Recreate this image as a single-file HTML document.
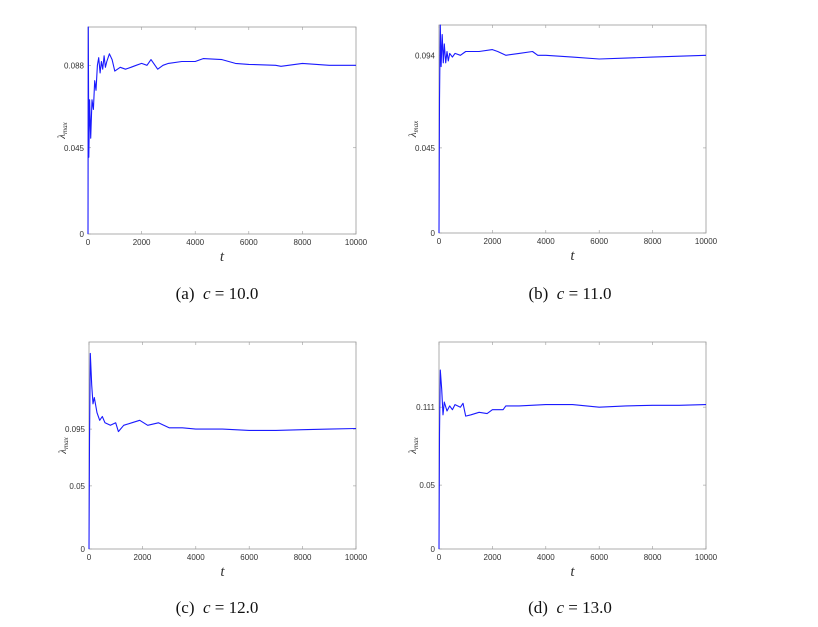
<!DOCTYPE html>
<html><head><meta charset="utf-8"><style>
body{margin:0;background:#fff;width:818px;height:627px;overflow:hidden}
svg{display:block}
.tk{font:8px "Liberation Sans",sans-serif;fill:#333}
.cap{font:17px "Liberation Serif",serif;fill:#111}
</style></head><body>
<svg id="s" width="818" height="627"></svg>
<script>
const tA=[0,10,30,60,100,150,200,250,300,350,400,450,500,550,600,650,700,800,900,1000,1200,1400,1600,1800,2000,2200,2350,2600,2800,3000,3500,4000,4300,5000,5500,6000,7000,7200,8000,9000,10000];
const vA=[0,0.108,0.04,0.07,0.05,0.07,0.065,0.08,0.075,0.088,0.092,0.084,0.09,0.086,0.093,0.087,0.09,0.094,0.091,0.085,0.087,0.086,0.087,0.088,0.089,0.088,0.091,0.086,0.088,0.089,0.09,0.09,0.0915,0.091,0.089,0.0885,0.088,0.0875,0.089,0.088,0.088];
const tB=[0,20,50,80,120,160,200,250,300,350,400,500,600,800,1000,1500,2000,2200,2500,3000,3500,3700,4000,5000,6000,7000,8000,9000,10000];
const vB=[0,0.07,0.11,0.088,0.105,0.09,0.1,0.09,0.096,0.091,0.095,0.093,0.095,0.094,0.096,0.096,0.097,0.096,0.094,0.095,0.096,0.094,0.094,0.093,0.092,0.0925,0.093,0.0935,0.094];
const tC=[0,20,50,100,150,200,300,400,500,600,800,1000,1100,1300,1600,1900,2200,2600,3000,3500,4000,5000,6000,7000,8000,9000,10000];
const vC=[0,0.085,0.155,0.13,0.115,0.12,0.108,0.102,0.105,0.1,0.098,0.1,0.093,0.098,0.1,0.102,0.098,0.1,0.096,0.096,0.095,0.095,0.094,0.094,0.0945,0.095,0.0955];
const tD=[0,20,50,100,150,200,300,400,500,600,800,900,1000,1200,1500,1800,2000,2400,2500,3000,4000,5000,6000,7000,8000,9000,10000];
const vD=[0,0.09,0.14,0.125,0.105,0.115,0.108,0.112,0.109,0.113,0.111,0.114,0.104,0.105,0.107,0.106,0.109,0.109,0.112,0.112,0.113,0.113,0.111,0.112,0.1125,0.1125,0.113];
const xTicks=[0,2000,4000,6000,8000,10000];
const yTicksA=[0,0.045,0.088], yTicksB=[0,0.045,0.094], yTicksC=[0,0.05,0.095], yTicksD=[0,0.05,0.111];
const ns="http://www.w3.org/2000/svg",S=document.getElementById('s');
function mk(tag,at,p){const e=document.createElementNS(ns,tag);for(const k in at)e.setAttribute(k,at[k]);(p||S).appendChild(e);return e;}
const panels=[
 {id:'a',x0:88,x1:356,y0:27,y1:234,ymax:0.108,t:tA,v:vA,yt:yTicksA,cap:'(a)',c:'10.0',cx:217,cy:299},
 {id:'b',x0:439,x1:706,y0:25,y1:233,ymax:0.110,t:tB,v:vB,yt:yTicksB,cap:'(b)',c:'11.0',cx:570,cy:299},
 {id:'c',x0:89,x1:356,y0:342,y1:549,ymax:0.164,t:tC,v:vC,yt:yTicksC,cap:'(c)',c:'12.0',cx:217,cy:613},
 {id:'d',x0:439,x1:706,y0:342,y1:549,ymax:0.162,t:tD,v:vD,yt:yTicksD,cap:'(d)',c:'13.0',cx:570,cy:613}];
panels.forEach(P=>{
 const g=mk('g',{});
 
 
 const X=t=>P.x0+(t/10000)*(P.x1-P.x0), Y=v=>P.y1-(v/P.ymax)*(P.y1-P.y0);
 const r=mk('rect',{x:P.x0,y:P.y0,width:P.x1-P.x0,height:P.y1-P.y0,fill:'none',stroke:'#999','stroke-width':0.8},g);
 
 
 xTicks.forEach(t=>{
  mk('line',{x1:X(t),x2:X(t),y1:P.y1,y2:P.y1-3,stroke:'#999','stroke-width':0.6},g);
  mk('line',{x1:X(t),x2:X(t),y1:P.y0,y2:P.y0+3,stroke:'#999','stroke-width':0.6},g);
  const tx=mk('text',{x:X(t),y:P.y1+11,'text-anchor':'middle',class:'tk'},g);tx.textContent=t;
  
  
 });
 P.yt.forEach(v=>{
  mk('line',{x1:P.x0,x2:P.x0+3,y1:Y(v),y2:Y(v),stroke:'#999','stroke-width':0.6},g);
  mk('line',{x1:P.x1,x2:P.x1-3,y1:Y(v),y2:Y(v),stroke:'#999','stroke-width':0.6},g);
  const tx=mk('text',{x:P.x0-4,y:Y(v)+3,'text-anchor':'end',class:'tk'},g);tx.textContent=v;
  
  
 });
 const xl=mk('text',{x:(P.x0+P.x1)/2,y:P.y1+27,'text-anchor':'middle',style:'font:italic 15px "Liberation Serif",serif;fill:#333'},g);xl.textContent='t';
 
 
 const yl=mk('text',{transform:`translate(${P.x0-23},${(P.y0+P.y1)/2}) rotate(-90)`,'text-anchor':'middle',style:'font:italic 11px "Liberation Serif",serif;fill:#333'},g);
 yl.innerHTML='λ<tspan font-size="7" dy="2">max</tspan>';
 
 
 const pts=P.t.map((t,i)=>X(t).toFixed(1)+','+Y(P.v[i]).toFixed(1)).join(' ');
 const pl=mk('polyline',{points:pts,fill:'none',stroke:'#1a1aff','stroke-width':1.1,'stroke-linejoin':'round'},g);
 
 
 const cp=mk('text',{x:P.cx,y:P.cy,'text-anchor':'middle',class:'cap'},g);
 cp.innerHTML=P.cap+'&#160; <tspan font-style="italic">c</tspan> = '+P.c;
 
 
});
</script>
</body></html>
